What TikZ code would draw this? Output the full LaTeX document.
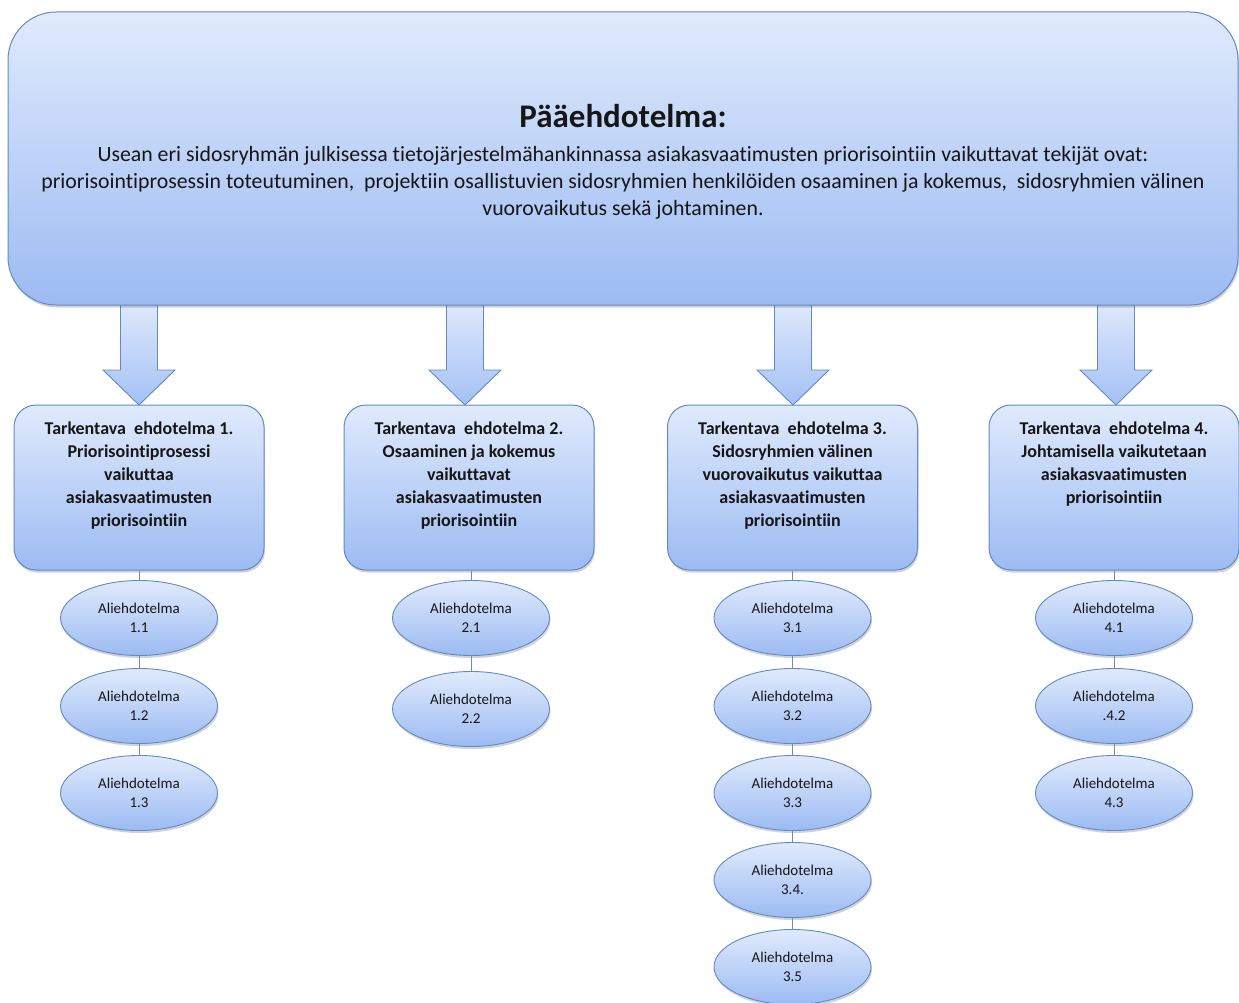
\documentclass[tikz,border=0pt]{standalone}
\usepackage{fontspec}
\setmainfont{Carlito}[RawFeature={-liga}]
\usetikzlibrary{calc,shadows,shapes.geometric}

\definecolor{edge}{RGB}{98,138,196}
\definecolor{filltop}{RGB}{224,234,252}
\definecolor{fillbot}{RGB}{156,187,243}
\definecolor{ink}{RGB}{22,22,22}
\definecolor{wire}{RGB}{112,140,182}

\tikzset{
  softshadow/.style={drop shadow={opacity=0.25,shadow xshift=1pt,shadow yshift=-2.5pt,fill=black!70}},
  mainbox/.style={draw=edge,line width=1pt,rounded corners=48pt,top color=filltop,bottom color=fillbot,softshadow},
  subbox/.style={draw=edge,line width=1pt,rounded corners=22pt,top color=filltop,bottom color=fillbot,
    minimum width=250,minimum height=165,softshadow},
  subtext/.style={anchor=north,align=center,inner sep=0pt,text=ink,font=\fontsize{18}{23}\selectfont\bfseries},
  hypo/.style={ellipse,draw=edge,line width=0.9pt,top color=filltop,bottom color=fillbot,
    minimum width=157,minimum height=75,inner sep=0pt,align=center,text=ink,
    font=\fontsize{15}{19}\selectfont,softshadow},
  blockarrow/.style={draw=edge,line width=0.9pt,top color=filltop,bottom color=fillbot!92!white,line join=miter},
  wireline/.style={draw=wire,line width=0.9pt}
}

% block arrow from a point on the upper box down to a tip
\newcommand\blockarrowdown[2]{%
  \path[blockarrow] ($(#1)+(-18.5,0)$) -- ($(#2)+(-18.5,-35)$) -- ($(#2)+(-36,-35)$) -- (#2)
    -- ($(#2)+(36,-35)$) -- ($(#2)+(18.5,-35)$) -- ($(#1)+(18.5,0)$) -- cycle;}

\begin{document}
\begin{tikzpicture}[x=1pt,y=-1pt]
\useasboundingbox (0,0) rectangle (1239,1003);

% second-level propositions
\node[subbox] (t1) at (139,487.5) {};
\node[subbox] (t2) at (469,487.5) {};
\node[subbox] (t3) at (792.5,487.5) {};
\node[subbox] (t4) at (1114,487.5) {};

% arrows from the main proposition
\coordinate (a1) at (139,300);
\coordinate (a2) at (465,300);
\coordinate (a3) at (793,300);
\coordinate (a4) at (1116,300);
\coordinate (p1) at (139,405);
\coordinate (p2) at (465,405);
\coordinate (p3) at (793,405);
\coordinate (p4) at (1116,405);
\blockarrowdown{a1}{p1}
\blockarrowdown{a2}{p2}
\blockarrowdown{a3}{p3}
\blockarrowdown{a4}{p4}

% main proposition
\node[mainbox,minimum width=1230,minimum height=293] (main) at (623,158.5) {};
\node[inner sep=0pt,anchor=base,text=ink,font=\fontsize{33}{36}\selectfont\bfseries] (title) at (623,128) {Pääehdotelma:};
\node[inner sep=0pt,anchor=north,align=center,text=ink,font=\fontsize{21.8}{27}\selectfont] (body) at (623,146)
  {Usean eri sidosryhmän julkisessa tietojärjestelmähankinnassa asiakasvaatimusten priorisointiin vaikuttavat tekijät ovat:\\
   priorisointiprosessin toteutuminen, \ projektiin osallistuvien sidosryhmien henkilöiden osaaminen ja kokemus, \ sidosryhmien välinen\\
   vuorovaikutus sekä johtaminen.};

% texts of the second-level boxes
\node[subtext] (t1txt) at ($(t1.north)+(0,17)$) {Tarkentava \ ehdotelma 1.\\Priorisointiprosessi\\vaikuttaa\\asiakasvaatimusten\\priorisointiin};
\node[subtext] (t2txt) at ($(t2.north)+(0,17)$) {Tarkentava \ ehdotelma 2.\\Osaaminen ja kokemus\\vaikuttavat\\asiakasvaatimusten\\priorisointiin};
\node[subtext] (t3txt) at ($(t3.north)+(0,17)$) {Tarkentava \ ehdotelma 3.\\Sidosryhmien välinen\\vuorovaikutus vaikuttaa\\asiakasvaatimusten\\priorisointiin};
\node[subtext] (t4txt) at ($(t4.north)+(0,17)$) {Tarkentava \ ehdotelma 4.\\Johtamisella vaikutetaan\\asiakasvaatimusten\\priorisointiin};

% sub-propositions
\node[hypo] (h11) at (139,618) {Aliehdotelma\\1.1};
\node[hypo] (h12) at (139,706) {Aliehdotelma\\1.2};
\node[hypo] (h13) at (139,793) {Aliehdotelma\\1.3};

\node[hypo] (h21) at (471,618) {Aliehdotelma\\2.1};
\node[hypo] (h22) at (471,709) {Aliehdotelma\\2.2};

\node[hypo] (h31) at (792.5,618) {Aliehdotelma\\3.1};
\node[hypo] (h32) at (792.5,706) {Aliehdotelma\\3.2};
\node[hypo] (h33) at (792.5,793) {Aliehdotelma\\3.3};
\node[hypo] (h34) at (792.5,880) {Aliehdotelma\\3.4.};
\node[hypo] (h35) at (792.5,967) {Aliehdotelma\\3.5};

\node[hypo] (h41) at (1114,618) {Aliehdotelma\\4.1};
\node[hypo] (h42) at (1114,706) {Aliehdotelma\\.4.2};
\node[hypo] (h43) at (1114,793) {Aliehdotelma\\4.3};

% connecting lines
\draw[wireline] (h11.north |- t1.south) -- (h11.north) (h11.south) -- (h12.north) (h12.south) -- (h13.north);
\draw[wireline] (h21.north |- t2.south) -- (h21.north) (h21.south) -- (h22.north);
\draw[wireline] (h31.north |- t3.south) -- (h31.north) (h31.south) -- (h32.north) (h32.south) -- (h33.north)
  (h33.south) -- (h34.north) (h34.south) -- (h35.north);
\draw[wireline] (h41.north |- t4.south) -- (h41.north) (h41.south) -- (h42.north) (h42.south) -- (h43.north);
\end{tikzpicture}
\end{document}
